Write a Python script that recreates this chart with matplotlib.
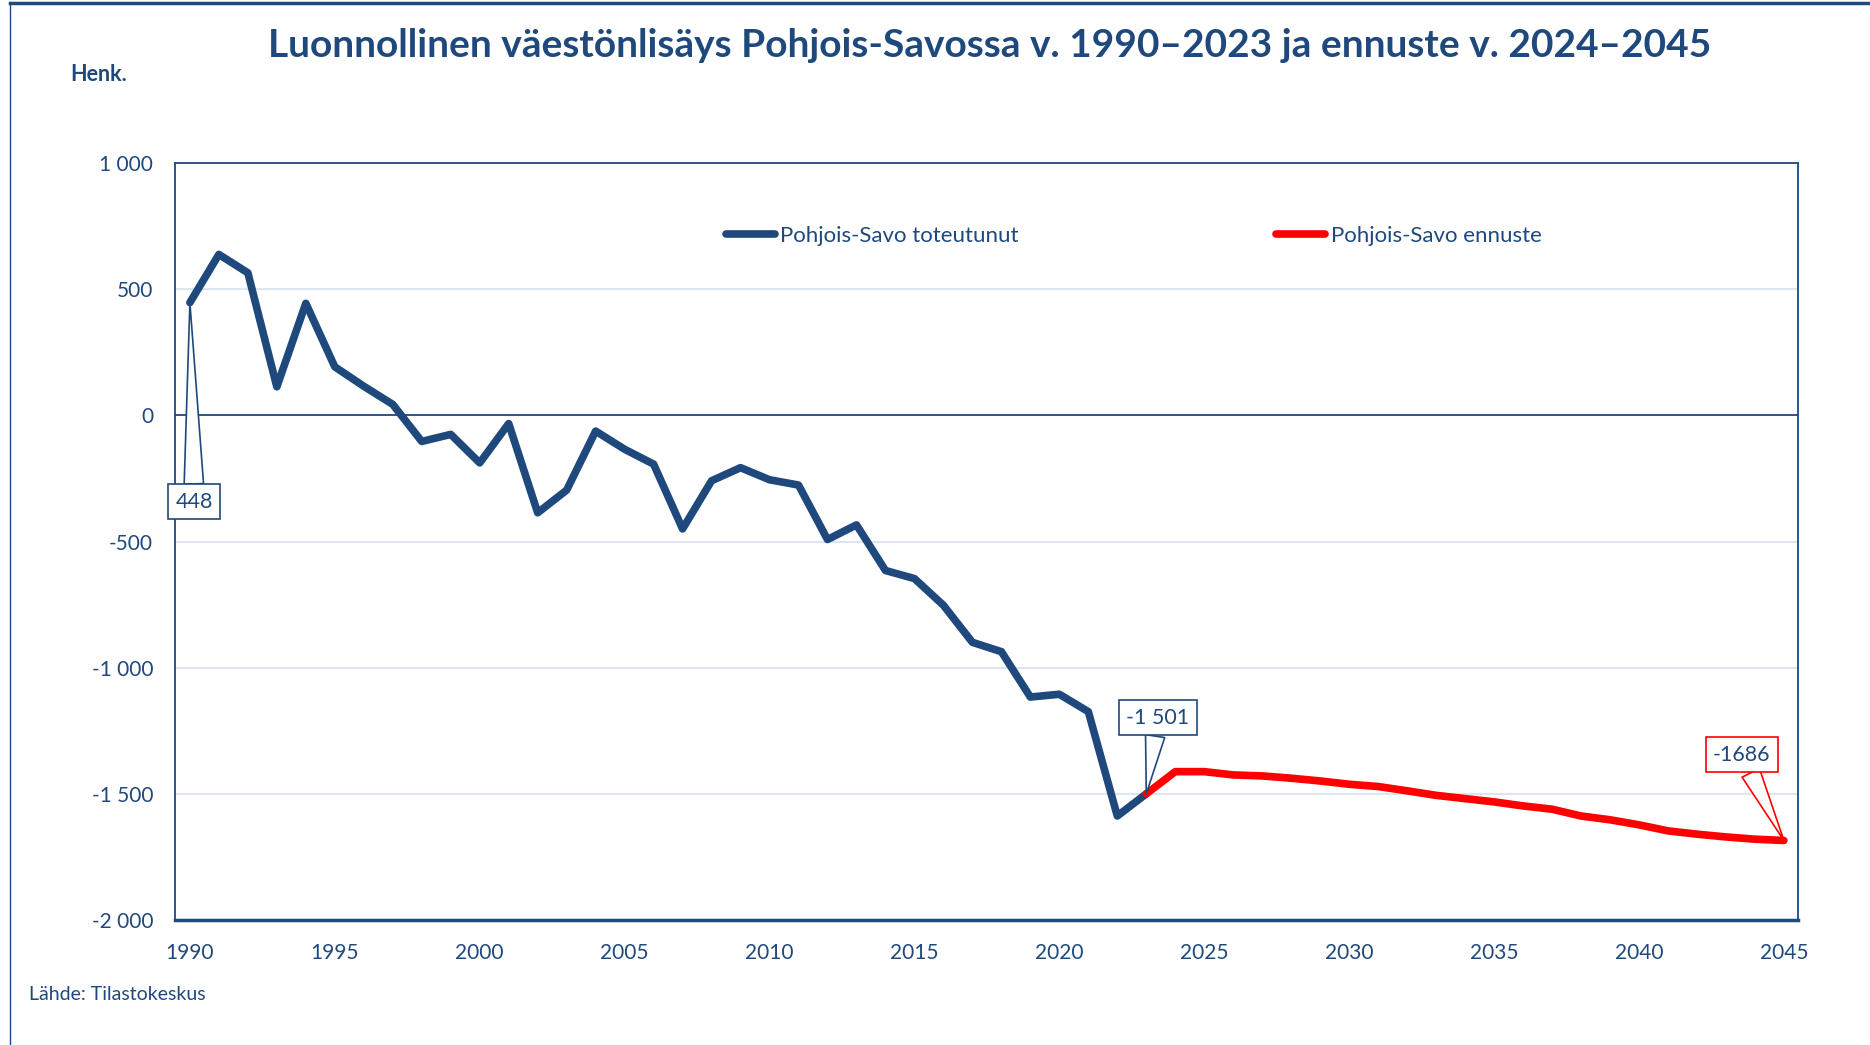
import matplotlib
matplotlib.use("Agg")
import matplotlib.pyplot as plt
from matplotlib.lines import Line2D
from matplotlib.ticker import FuncFormatter

plt.rcParams['font.family'] = ['Lato', 'DejaVu Sans']

# ---- data ----
years_actual = list(range(1990, 2024))
actual = [448, 639, 566, 114, 445, 193, 116, 44, -103, -75, -188, -32, -386, -296,
          -62, -134, -193, -450, -259, -207, -255, -276, -492, -434, -615, -647,
          -753, -900, -937, -1117, -1106, -1175, -1589, -1501]
years_fc = list(range(2023, 2046))
forecast = [-1501, -1413, -1413, -1426, -1430, -1439, -1450, -1463, -1472, -1489,
            -1507, -1520, -1533, -1549, -1562, -1589, -1604, -1624, -1648, -1661,
            -1672, -1681, -1686]
xticks = list(range(1990, 2046, 5))
yticks = [1000, 500, 0, -500, -1000, -1500, -2000]

DARK = '#1F497D'
RED = '#FF0000'
GRID = '#DCE6F2'

fig = plt.figure(figsize=(18.7, 10.45), dpi=100)
ax = fig.add_axes([0.0938, 0.120, 0.8679, 0.7236])

ax.set_xlim(1989.5, 2045.5)
ax.set_ylim(-2000, 1000)
ax.set_yticks(yticks)
ax.set_xticks(xticks)
ax.yaxis.set_major_formatter(FuncFormatter(lambda v, p: f"{int(v):,}".replace(",", " ")))
ax.tick_params(axis='both', length=0, labelsize=15, colors=DARK)
ax.tick_params(axis='y', pad=16)
ax.tick_params(axis='x', pad=17)
for lbl in ax.get_xticklabels() + ax.get_yticklabels():
    lbl.set_color(DARK)

for y in yticks:
    if y not in (0, 1000, -2000):
        ax.axhline(y, color=GRID, lw=1.5, zorder=0)
ax.axhline(0, color=DARK, lw=1.3, zorder=1)

for s in ax.spines.values():
    s.set_color(DARK)
    s.set_linewidth(1.3)
ax.spines['bottom'].set_linewidth(2.5)

l1, = ax.plot(years_actual, actual, color=DARK, lw=5.5, solid_joinstyle='round',
              solid_capstyle='round', zorder=3, label='Pohjois-Savo toteutunut')
l2, = ax.plot(years_fc, forecast, color=RED, lw=5.5, solid_joinstyle='round',
              solid_capstyle='round', zorder=4, label='Pohjois-Savo ennuste')

leg = ax.legend(handles=[l1, l2], loc='center', bbox_to_anchor=(0.5905, 0.904),
                ncol=2, frameon=False, fontsize=16, handlelength=2.2,
                handletextpad=0.25, columnspacing=11.6)
for t in leg.get_texts():
    t.set_color(DARK)

def callout(x, y, text, tx, ty, ec):
    ax.annotate(text, xy=(x, y), xytext=(tx, ty), textcoords='data',
                fontsize=15.5, color=DARK, ha='center', va='center', zorder=6,
                bbox=dict(boxstyle='square,pad=0.35', fc='white', ec=ec, lw=1.2),
                arrowprops=dict(arrowstyle='wedge,tail_width=0.9,shrink_factor=0.5',
                                fc='white', ec=ec, lw=1.2, shrinkA=0, shrinkB=0))

callout(years_actual[0], actual[0], f"{actual[0]}", 1990.15, -343, DARK)
callout(years_actual[-1], actual[-1], f"{actual[-1]:,}".replace(",", " "), 2023.4, -1200, DARK)
callout(years_fc[-1], forecast[-1], f"{forecast[-1]}", 2043.55, -1346, RED)

fig.text(0.529, 0.956, 'Luonnollinen väestönlisäys Pohjois-Savossa v. 1990–2023 ja ennuste v. 2024–2045',
         ha='center', va='center', fontsize=28, fontweight='bold', color=DARK)
fig.text(0.0376, 0.929, 'Henk.', ha='left', va='center', fontsize=15.5, fontweight='bold', color=DARK)
fig.text(0.0153, 0.048, 'Lähde: Tilastokeskus', ha='left', va='center', fontsize=14, color=DARK)

fig.add_artist(Line2D([0.0051, 1.0], [0.9967, 0.9967], transform=fig.transFigure, color=DARK, lw=2.5))
fig.add_artist(Line2D([0.0051, 0.0051], [0.0, 0.9967], transform=fig.transFigure, color=DARK, lw=1.0))

fig.savefig('out.png', dpi=100)
